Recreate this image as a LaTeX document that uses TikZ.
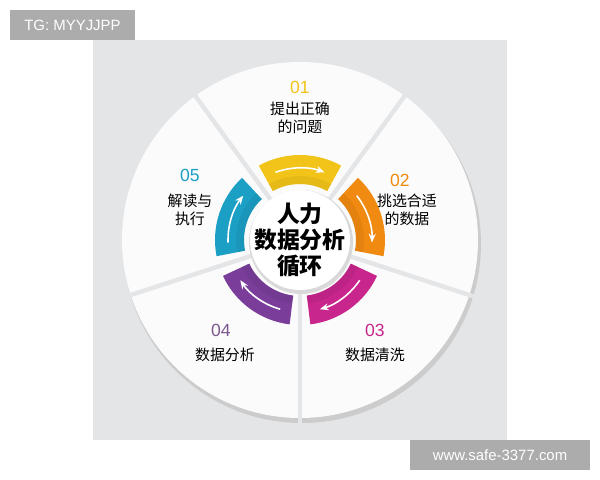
\documentclass[tikz,border=0pt]{standalone}
\usepackage{fontspec}
\setmainfont{Liberation Sans}
\newfontfamily\cjk{Noto Sans CJK SC}
\usetikzlibrary{arrows.meta}
\definecolor{bg}{HTML}{E4E5E7}
\definecolor{cY}{HTML}{F2C318}
\definecolor{cO}{HTML}{F08A10}
\definecolor{cM}{HTML}{C8268C}
\definecolor{cP}{HTML}{7A3E9A}
\definecolor{cB}{HTML}{1C9FC4}
\tikzset{
  lbl/.style={font=\cjk\fontsize{8.5}{10.5}\selectfont, align=center, text=black},
  num/.style={font=\fontsize{10}{12}\selectfont},
  tag/.style={fill=gray!65, text=white, font=\fontsize{8.5}{10}\selectfont, inner sep=0pt},
  arr/.style={white, line width=0.9pt, -{Stealth[length=5pt,width=4pt]}}
}
\begin{document}
\begin{tikzpicture}[x=0.02cm,y=0.02cm]
\useasboundingbox (0,0) rectangle (600,480);
\fill[bg] (93,40) rectangle (507,440);
\coordinate (C) at (300,240);
% white disk with shadow
\fill[gray!40] (302,236) circle (179);
\fill[white!97!gray] (C) circle (178);
\foreach \a in {54,126,198,270,342}{
  \draw[bg, line width=2.5pt] (C) -- ++(\a:185);
}
% colored ring segments
\foreach \c/\m in {cY/90,cO/18,cM/-54,cP/-126,cB/162}{
  \fill[\c] (C) ++(\m-29:56) arc[start angle=\m-29, end angle=\m+29, radius=56]
     -- ++(\m+29:29) arc[start angle=\m+29, end angle=\m-29, radius=85] -- cycle;
  \fill[\c!80!black, opacity=0.25] (C) ++(\m-29:56) arc[start angle=\m-29, end angle=\m+29, radius=56]
     -- ++(\m+29:8) arc[start angle=\m+29, end angle=\m-29, radius=64] -- cycle;
}
% arrows (clockwise)
\foreach \m in {90,18,-54,-126,162}{
  \draw[arr] (C) ++(\m+20:72) arc[start angle=\m+20, end angle=\m-20, radius=72];
}
% center circle
\fill[gray!30] (301,238) circle (52);
\node[circle, fill=white, minimum size=100*0.02cm, inner sep=0pt] (ctr) at (C) {};
\node[font=\cjk\bfseries\fontsize{13}{15}\selectfont, align=center] (ct) at (C) {人力\\数据分析\\循环};
% labels
\node[num, text=cY] (n1) at (300,393) {01};
\node[lbl] (l1) at (300,362) {提出正确\\的问题};
\node[num, text=cO] (n2) at (400,300) {02};
\node[lbl] (l2) at (407,270) {挑选合适\\的数据};
\node[num, text=cM] (n3) at (375,150) {03};
\node[lbl] (l3) at (375,125) {数据清洗};
\node[num, text=cP!60!gray] (n4) at (221,150) {04};
\node[lbl] (l4) at (225,125) {数据分析};
\node[num, text=cB] (n5) at (190,305) {05};
\node[lbl] (l5) at (190,270) {解读与\\执行};
% tags
\node[tag, minimum width=125*0.02cm, minimum height=30*0.02cm] (tg) at (72.5,455) {TG: MYYJJPP};
\node[tag, minimum width=180*0.02cm, minimum height=30*0.02cm] (ws) at (500,25) {www.safe-3377.com};
\end{tikzpicture}
\end{document}
